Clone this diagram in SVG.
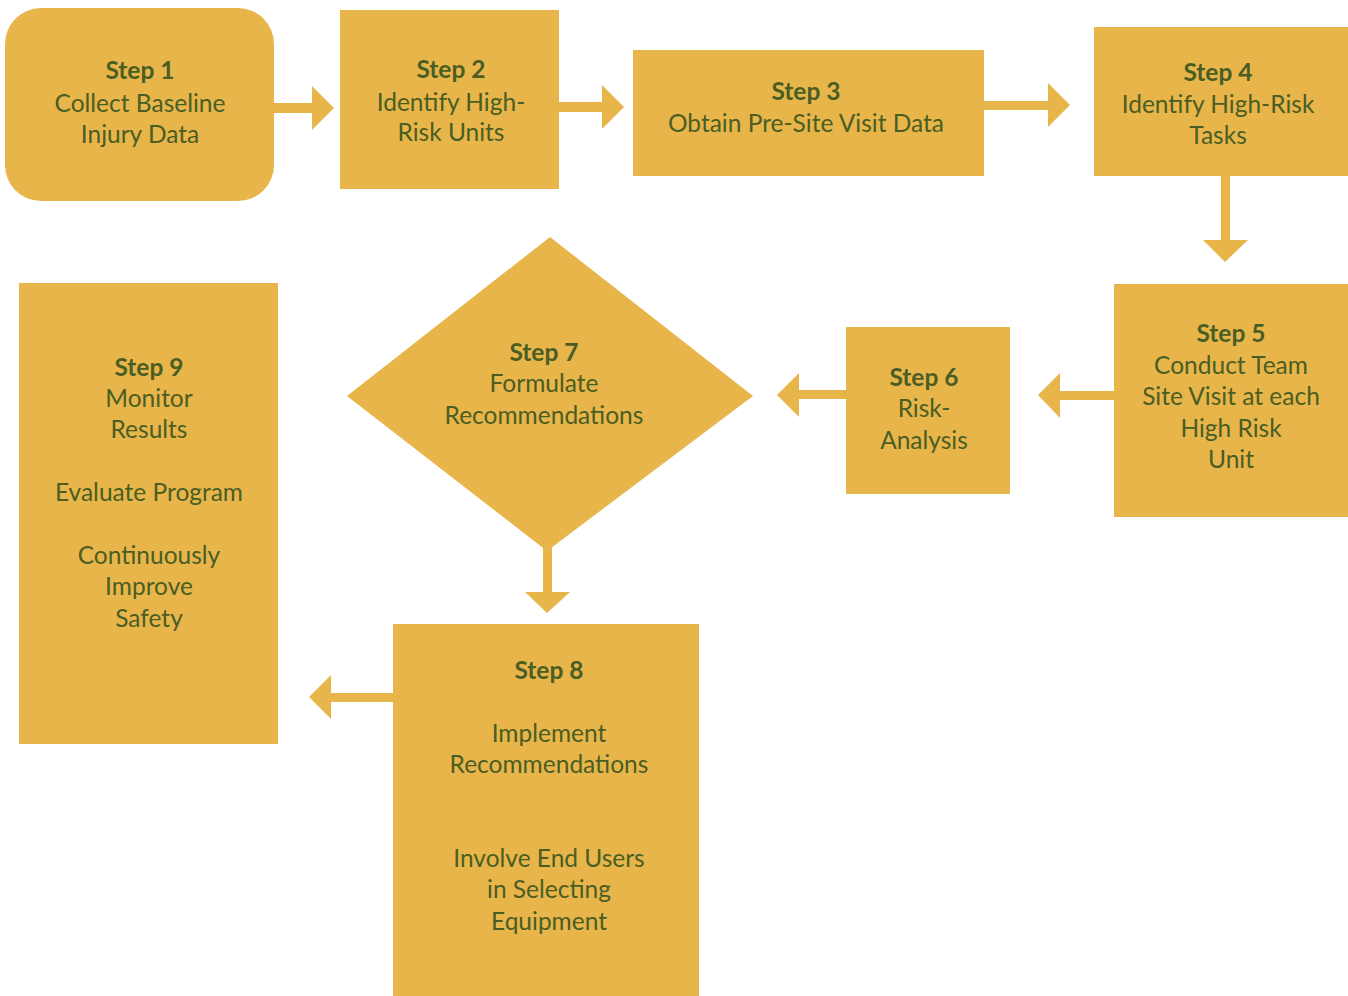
<svg xmlns="http://www.w3.org/2000/svg" width="1348" height="996" viewBox="0 0 1348 996">
<style>
.n{fill:#E8B54A}
.c{fill:#E8B54A}
text{font-family:Lato,"Open Sans",sans-serif;font-size:24.5px;fill:#4A5E23;text-anchor:middle}
.b{font-weight:bold}
</style>
<rect width="1348" height="996" fill="#FFFFFF"/>
<g id="connectors">
<polygon class="c" points="274,103 312,103 312,86 334,108 312,130 312,113 274,113"/>
<polygon class="c" points="559,102 602,102 602,85 624,107 602,129 602,112 559,112"/>
<polygon class="c" points="984,101 1048,101 1048,83 1070,105 1048,127 1048,110 984,110"/>
<polygon class="c" points="1221,176 1230,176 1230,240 1248,240 1225,262 1203,240 1221,240"/>
<polygon class="c" points="1114,391 1060,391 1060,373 1038,395 1060,418 1060,400 1114,400"/>
<polygon class="c" points="846,390 799,390 799,373 777,395 799,417 799,399 846,399"/>
<polygon class="c" points="543,548 552,548 552,592 570,592 547,613 525,592 543,592"/>
<polygon class="c" points="393,693 331,693 331,675 309,697 331,719 331,702 393,702"/>
</g>
<g id="step1">
<rect class="n" x="5" y="8" width="269" height="193" rx="36"/>
<text x="140" y="79" class="b">Step 1</text>
<text x="140" y="112">Collect Baseline</text>
<text x="140" y="143">Injury Data</text>
</g>
<g id="step2">
<rect class="n" x="340" y="10" width="219" height="179"/>
<text x="451" y="78" class="b">Step 2</text>
<text x="451" y="111">Identify High-</text>
<text x="451" y="141">Risk Units</text>
</g>
<g id="step3">
<rect class="n" x="633" y="50" width="351" height="126"/>
<text x="806" y="100" class="b">Step 3</text>
<text x="806" y="132">Obtain Pre-Site Visit Data</text>
</g>
<g id="step4">
<rect class="n" x="1094" y="27" width="254" height="149"/>
<text x="1218" y="81" class="b">Step 4</text>
<text x="1218" y="113">Identify High-Risk</text>
<text x="1218" y="144">Tasks</text>
</g>
<g id="step5">
<rect class="n" x="1114" y="284" width="234" height="233"/>
<text x="1231" y="342" class="b">Step 5</text>
<text x="1231" y="374">Conduct Team</text>
<text x="1231" y="405">Site Visit at each</text>
<text x="1231" y="437">High Risk</text>
<text x="1231" y="468">Unit</text>
</g>
<g id="step6">
<rect class="n" x="846" y="327" width="164" height="167"/>
<text x="924" y="386" class="b">Step 6</text>
<text x="924" y="417">Risk-</text>
<text x="924" y="449">Analysis</text>
</g>
<g id="step7">
<polygon class="n" points="550,237 753,396 547,551 347,396"/>
<text x="544" y="361" class="b">Step 7</text>
<text x="544" y="392">Formulate</text>
<text x="544" y="424">Recommendations</text>
</g>
<g id="step8">
<rect class="n" x="393" y="624" width="306" height="372"/>
<text x="549" y="679" class="b">Step 8</text>
<text x="549" y="742">Implement</text>
<text x="549" y="773">Recommendations</text>
<text x="549" y="867">Involve End Users</text>
<text x="549" y="898">in Selecting</text>
<text x="549" y="930">Equipment</text>
</g>
<g id="step9">
<rect class="n" x="19" y="283" width="259" height="461"/>
<text x="149" y="376" class="b">Step 9</text>
<text x="149" y="407">Monitor</text>
<text x="149" y="438">Results</text>
<text x="149" y="501">Evaluate Program</text>
<text x="149" y="564">Continuously</text>
<text x="149" y="595">Improve</text>
<text x="149" y="627">Safety</text>
</g>
</svg>
